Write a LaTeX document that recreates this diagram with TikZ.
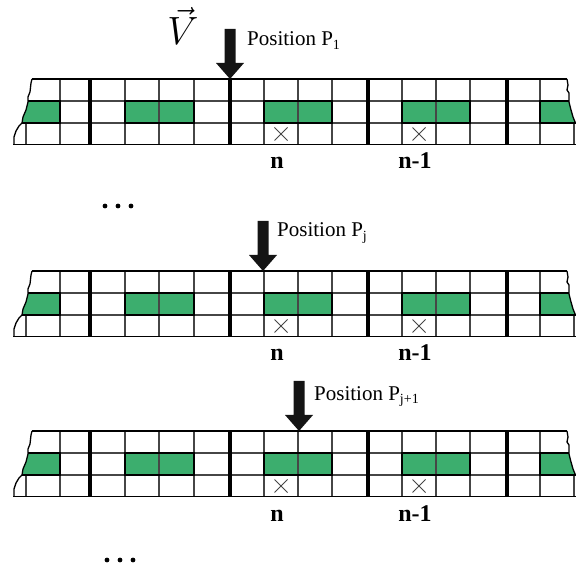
\documentclass[tikz,border=0pt]{standalone}
\usepackage{fontspec}
\setmainfont{Liberation Serif}
\definecolor{cellgreen}{RGB}{60,174,110}
\definecolor{gridgray}{RGB}{70,70,70}
\tikzset{
  gridline/.style={draw=gridgray, line width=1.1pt},
  sepline/.style={draw=black, line width=3.4pt},
  edgeline/.style={draw=black, line width=1.8pt},
  tornline/.style={draw=black, line width=1.3pt, line join=round},
  greenfill/.style={fill=cellgreen},
  greenedge/.style={draw=black, line width=1.4pt},
  crossmark/.style={draw=gridgray, line width=0.8pt},
  posarrow/.style={fill=black!92, draw=none},
  cellnum/.style={font=\fontsize{24}{24}\selectfont\bfseries, inner sep=0pt, anchor=base},
  poslbl/.style={font=\fontsize{21}{21}\selectfont, inner sep=0pt, anchor=base west},
  dotmark/.style={fill=black},
}
\newcommand\possub[1]{\raisebox{-0.4ex}{\fontsize{14}{14}\selectfont #1}}
\newcommand\tapestrip[2]{%
  \begin{scope}[shift={(0,#1)}]
    % green fills
    \fill[greenfill] (28,22) -- (28,23) -- (26,31) -- (23,38) -- (22,44) -- (60,44) -- (60,22) -- cycle;
    \fill[greenfill] (125,22) rectangle (194,44);
    \fill[greenfill] (264,22) rectangle (332,44);
    \fill[greenfill] (402,22) rectangle (470,44);
    \fill[greenfill] (540,22) -- (569,22) -- (569,23) -- (571,31) -- (573,38) -- (575,43) -- (577,44) -- (540,44) -- cycle;
    % thin grid
    \draw[gridline] (28,22) -- (569,22);
    \draw[gridline] (22,44) -- (577,44);
    \foreach \x in {60,125,159,194,264,298,332,402,436,470,540}
      \draw[gridline] (\x,0) -- (\x,65.5);
    \draw[gridline] (26,44) -- (26,65.5);
    \draw[gridline] (574,44) -- (574,65.5);
    % green outlines
    \draw[greenedge] (28,22) -- (60,22) -- (60,44) -- (22,44);
    \draw[greenedge] (125,22) rectangle (194,44);
    \draw[greenedge] (264,22) rectangle (332,44);
    \draw[greenedge] (402,22) rectangle (470,44);
    \draw[greenedge] (569,22) -- (540,22) -- (540,44) -- (577,44);
    % crosses
    \foreach \cx in {281,419}
      \draw[crossmark] (\cx-6.5,48.5) -- (\cx+6.5,61.5) (\cx-6.5,61.5) -- (\cx+6.5,48.5);
    % separators
    \foreach \x in {90,230,368,507}
      \draw[sepline] (\x,0) -- (\x,65.5);
    % edges
    \draw[edgeline] (32,0) -- (567,0);
    \draw[edgeline] (13,65.5) -- (578,65.5);
    \draw[tornline] (32,0) -- (31,4) -- (30,13) -- (28,18) -- (28,23) -- (26,31) -- (23,38) -- (22,44) -- (19,47) -- (16,52) -- (14,58) -- (14,65.5);
    \draw[tornline] (567,0) -- (568,6) -- (567,11) -- (569,14) -- (569,23) -- (571,31) -- (573,38) -- (575,43) -- (577,45);
    % labels
    \node[cellnum] (n#2) at (277,90) {n};
    \node[cellnum] (m#2) at (415,90) {n-1};
  \end{scope}}
\newcommand\posarrowat[2]{%
  \fill[posarrow] (#1-5.5,#2-50) -- (#1+5.5,#2-50) -- (#1+5.5,#2-16) -- (#1+14,#2-16)
     -- (#1,#2) -- (#1-14,#2-16) -- (#1-5.5,#2-16) -- cycle;}
\begin{document}
\begin{tikzpicture}[x=1pt,y=-1pt]
  \useasboundingbox (0,0) rectangle (576,569);
  \tapestrip{79}{a}
  \tapestrip{271}{b}
  \tapestrip{431}{c}
  % velocity
  \node[inner sep=0pt, anchor=base] (vel) at (183,45) {\fontsize{20}{20}\selectfont\scalebox{1.9}{$\vec{V}$}};
  % position arrows
  \posarrowat{230}{79}
  \posarrowat{263}{271}
  \posarrowat{299}{431}
  \node[poslbl] (p1) at (247,46) {Position P\possub{1}};
  \node[poslbl] (pj) at (277,237) {Position P\possub{j}};
  \node[poslbl] (pj1) at (314,400) {Position P\possub{j+1}};
  % ellipses
  \foreach \x in {105,118,131} \fill[dotmark] (\x,206) circle (2.4);
  \foreach \x in {107,120,133} \fill[dotmark] (\x,560) circle (2.4);
\end{tikzpicture}
\end{document}
